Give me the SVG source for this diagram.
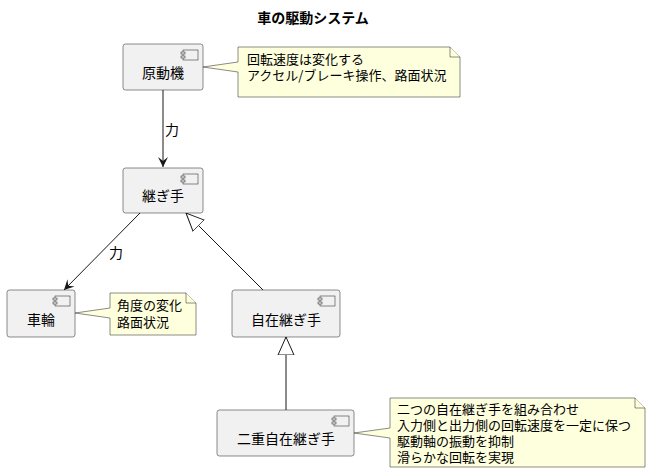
<svg xmlns="http://www.w3.org/2000/svg" width="650" height="474" viewBox="0 0 650 474">
<defs>
<style>
.box{fill:#F1F1F1;stroke:#181818;stroke-width:0.5}
.note{fill:#FEFFDD;stroke:#181818;stroke-width:0.5}
.ic{fill:#F1F1F1;stroke:#181818;stroke-width:0.5}
.t{font-family:"Noto Sans CJK JP","Noto Sans",sans-serif;font-size:14px;fill:#000}
.n{font-family:"Noto Sans CJK JP","Noto Sans",sans-serif;font-size:13px;fill:#000}
.title{font-family:"Noto Sans CJK JP","Noto Sans",sans-serif;font-size:14px;font-weight:bold;fill:#000}
.ln{stroke:#181818;stroke-width:1;fill:none}
</style>
<marker id="arr" markerWidth="12" markerHeight="12" refX="10" refY="5" orient="auto" markerUnits="userSpaceOnUse" viewBox="0 0 12 10">
<path d="M0,0 L10,5 L0,10 L4,5 Z" fill="#181818"/>
</marker>
<marker id="tri" markerWidth="20" markerHeight="20" refX="18" refY="9" orient="auto" markerUnits="userSpaceOnUse" viewBox="0 0 20 18">
<path d="M0,1 L18,9 L0,17 Z" fill="#FFFFFF" stroke="#181818" stroke-width="1"/>
</marker>
<g id="icon">
<rect class="ic" x="0" y="0" width="15" height="10"/>
<rect class="ic" x="-2" y="2" width="4" height="2"/>
<rect class="ic" x="-2" y="6" width="4" height="2"/>
</g>
</defs>
<rect width="650" height="474" fill="#FFFFFF"/>
<text class="title" x="313" y="23" text-anchor="middle">車の駆動システム</text>

<g id="connectors">
<line class="ln" x1="163" y1="90" x2="163" y2="167" marker-end="url(#arr)"/>
<text class="t" x="165" y="135">力</text>
<line class="ln" x1="140" y1="213" x2="64" y2="290" marker-end="url(#arr)"/>
<text class="t" x="109" y="258">力</text>
<line class="ln" x1="263" y1="290" x2="186" y2="213" marker-end="url(#tri)"/>
<line class="ln" x1="286" y1="410" x2="286" y2="337" marker-end="url(#tri)"/>
</g>

<g id="n1">
<rect class="box" x="123" y="44" width="80" height="46" rx="2.5"/>
<use href="#icon" x="183" y="50"/>
<text class="t" x="163" y="78" text-anchor="middle">原動機</text>
</g>
<g id="note1">
<path class="note" d="M238,47 L450,47 L460,57 L460,97 L238,97 L238,72 L203,67 L238,62 Z"/>
<path class="note" d="M450,47 L450,57 L460,57" fill="none"/>
<text class="n" x="247" y="64">回転速度は変化する</text>
<text class="n" x="247" y="80">アクセル/ブレーキ操作、路面状況</text>
</g>
<g id="n2">
<rect class="box" x="123" y="168" width="80" height="45" rx="2.5"/>
<use href="#icon" x="183" y="174"/>
<text class="t" x="163" y="201" text-anchor="middle">継ぎ手</text>
</g>
<g id="n3">
<rect class="box" x="7" y="290" width="68" height="47" rx="2.5"/>
<use href="#icon" x="55" y="296"/>
<text class="t" x="41" y="325" text-anchor="middle">車輪</text>
</g>
<g id="note3">
<path class="note" d="M110,293 L186,293 L196,303 L196,335 L110,335 L110,318 L75,313 L110,308 Z"/>
<path class="note" d="M186,293 L186,303 L196,303" fill="none"/>
<text class="n" x="117" y="310">角度の変化</text>
<text class="n" x="117" y="327">路面状況</text>
</g>
<g id="n4">
<rect class="box" x="232" y="290" width="108" height="47" rx="2.5"/>
<use href="#icon" x="320" y="296"/>
<text class="t" x="286" y="325" text-anchor="middle">自在継ぎ手</text>
</g>
<g id="n5">
<rect class="box" x="217" y="410" width="137" height="46" rx="2.5"/>
<use href="#icon" x="334" y="416"/>
<text class="t" x="286" y="444" text-anchor="middle">二重自在継ぎ手</text>
</g>
<g id="note5">
<path class="note" d="M390,398 L635,398 L645,408 L645,467 L390,467 L390,438 L354,433 L390,428 Z"/>
<path class="note" d="M635,398 L635,408 L645,408" fill="none"/>
<text class="n" x="397" y="414">二つの自在継ぎ手を組み合わせ</text>
<text class="n" x="397" y="430">入力側と出力側の回転速度を一定に保つ</text>
<text class="n" x="397" y="446">駆動軸の振動を抑制</text>
<text class="n" x="397" y="462">滑らかな回転を実現</text>
</g>
</svg>
